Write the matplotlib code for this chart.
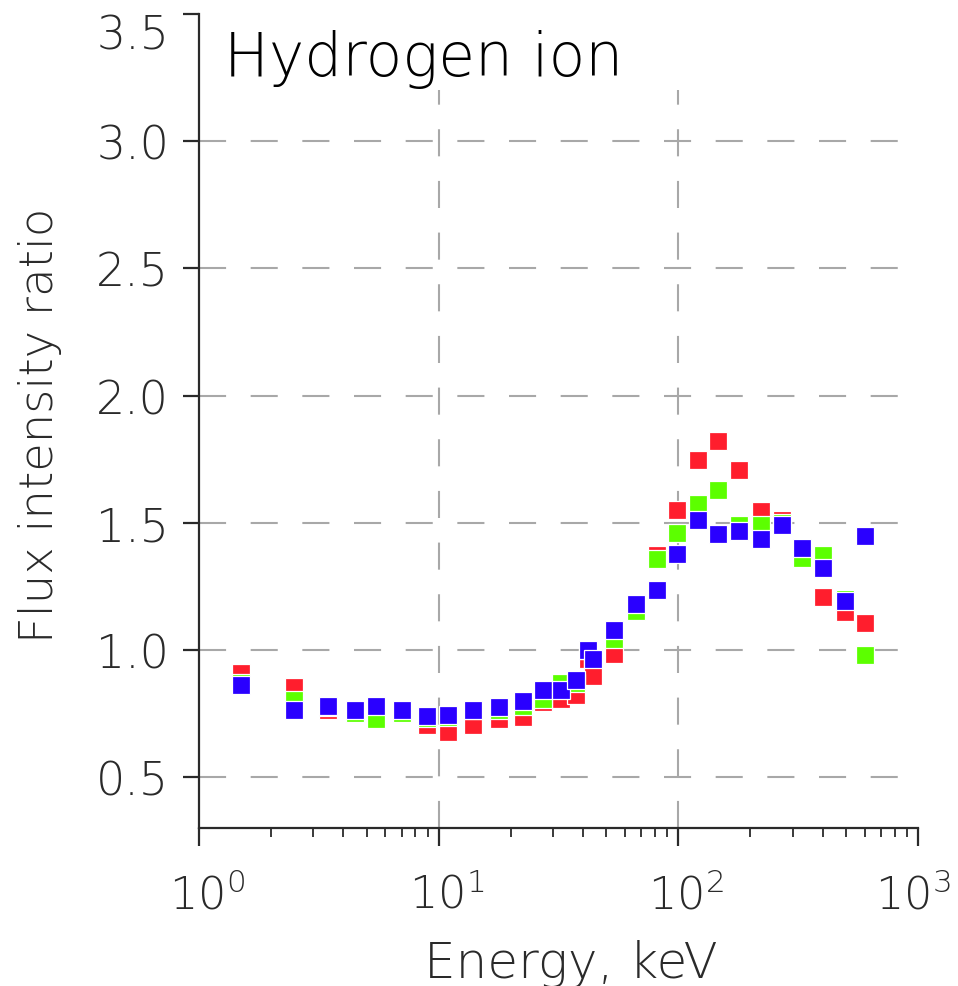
import numpy as np
import matplotlib
matplotlib.use("Agg")
import matplotlib.pyplot as plt
import matplotlib.transforms as mtrans
from matplotlib.ticker import FixedLocator, FuncFormatter, LogLocator, NullFormatter

# Energy channels (keV) and flux intensity ratios for the three series
energy = [1.50, 2.49, 3.45, 4.47, 5.49, 7.01, 8.96, 10.9, 13.9, 17.9, 22.4,
          27.2, 32.4, 37.4, 42.0, 44.2, 53.9, 66.5, 81.3, 99.0, 120.5,
          146.8, 179.5, 221.6, 270.0, 327.0, 400.0, 496.0, 601.0]
ratio_red = [0.909, 0.854, 0.764, 0.756, 0.752, 0.756, 0.705, 0.677, 0.705,
             0.728, 0.736, 0.795, 0.807, 0.823, 0.965, 0.898, 0.984, 1.165,
             1.374, 1.549, 1.746, 1.821, 1.709, 1.547, 1.512, 1.380, 1.209,
             1.150, 1.106]
ratio_green = [0.870, 0.803, 0.775, 0.752, 0.728, 0.752, 0.732, 0.736, 0.764,
               0.764, 0.780, 0.807, 0.870, 0.870, 1.000, 0.968, 1.043, 1.154,
               1.358, 1.460, 1.575, 1.630, 1.492, 1.492, 1.500, 1.362, 1.374,
               1.201, 0.980]
ratio_blue = [0.862, 0.762, 0.778, 0.762, 0.778, 0.762, 0.742, 0.746, 0.762,
              0.774, 0.799, 0.841, 0.843, 0.880, 0.998, 0.965, 1.079, 1.181,
              1.234, 1.376, 1.512, 1.455, 1.468, 1.437, 1.490, 1.402, 1.321,
              1.193, 1.447]

y_ticks = [0.5, 1.0, 1.5, 2.0, 2.5, 3.0, 3.5]
x_grid = [10, 100]
y_grid = [0.5, 1.0, 1.5, 2.0, 2.5, 3.0]

FW = 200  # thin strokes for all text
plt.rcParams["font.family"] = ["DejaVu Sans"]
plt.rcParams["font.weight"] = FW
plt.rcParams["axes.labelweight"] = FW
plt.rcParams["mathtext.fontset"] = "custom"
plt.rcParams["mathtext.rm"] = "DejaVu Sans:weight=200"
plt.rcParams["lines.scale_dashes"] = False

TXT = "#2a2a2a"
GRID = "#a8a8a8"

W, H = 958, 987
fig = plt.figure(figsize=(W / 100, H / 100), dpi=100)
ax = fig.add_axes([199 / W, 1 - 829 / H, (918 - 199) / W, (829 - 15) / H])
ax.set_xscale("log")
ax.set_xlim(1, 1000)
ax.set_ylim(0.3, 3.5)

dash = (0, (19.5, 17.7))
for yv in y_grid:
    ax.plot([1, 1000], [yv, yv], color=GRID, lw=1.5, linestyle=dash,
            zorder=1, dash_capstyle="butt")
for xv in x_grid:
    ax.plot([xv, xv], [0.3, 3.2], color=GRID, lw=1.5, linestyle=dash,
            zorder=1, dash_capstyle="butt")

marker_kw = dict(marker="s", markersize=13.6, linestyle="none",
                 markeredgecolor="white", markeredgewidth=0.9, zorder=3)
ax.plot(energy, ratio_red, color="#ff1e2d", **marker_kw)
ax.plot(energy, ratio_green, color="#5cff00", **marker_kw)
ax.plot(energy, ratio_blue, color="#2a00ff", **marker_kw)

for s in ("top", "right"):
    ax.spines[s].set_visible(False)
for s in ("left", "bottom"):
    ax.spines[s].set_color(TXT)
    ax.spines[s].set_linewidth(1.6)

ax.yaxis.set_major_locator(FixedLocator(y_ticks))
ax.yaxis.set_major_formatter(FuncFormatter(lambda v, p: f"{v:.1f}"))
ax.tick_params(axis="y", which="major", direction="out", length=11.5, width=1.6,
               color=TXT, labelsize=33, labelcolor=TXT, pad=10)

ax.xaxis.set_major_locator(LogLocator(base=10, numticks=10))
ax.xaxis.set_minor_locator(LogLocator(base=10, subs=np.arange(2, 10), numticks=10))
ax.xaxis.set_minor_formatter(NullFormatter())
ax.xaxis.set_major_formatter(FuncFormatter(
    lambda v, p: r"$\mathregular{10^{%d}}$" % round(np.log10(v))))
ax.tick_params(axis="x", which="major", direction="out", length=13, width=1.6,
               color=TXT, labelsize=32, labelcolor=TXT, pad=19)
ax.tick_params(axis="x", which="minor", direction="out", length=6.5, width=1.3,
               color=TXT)

fig.canvas.draw()
# keep the top y label inside the frame, and centre the decade labels on "10"
for lab in ax.get_yticklabels():
    if lab.get_text() == "3.5":
        lab.set_verticalalignment("top")
for lab in ax.get_xticklabels():
    dx = -5 if "{3}" in lab.get_text() else 8
    shift = mtrans.ScaledTranslation(dx / 100, 0, fig.dpi_scale_trans)
    lab.set_transform(lab.get_transform() + shift)

fig.text(571 / W, 1 - 978 / H, "Energy, keV", fontsize=36, color=TXT,
         fontweight=FW, ha="center", va="baseline")
fig.text(40 / W, 1 - 425 / H, "Flux intensity ratio", fontsize=33.5,
         color=TXT, fontweight=FW, rotation=90, ha="center", va="center")

fig.text(224 / W, 1 - 30 / H, "Hydrogen ion", fontsize=43, color="black",
         fontweight=FW, ha="left", va="top")

fig.savefig("out.png", dpi=100)
